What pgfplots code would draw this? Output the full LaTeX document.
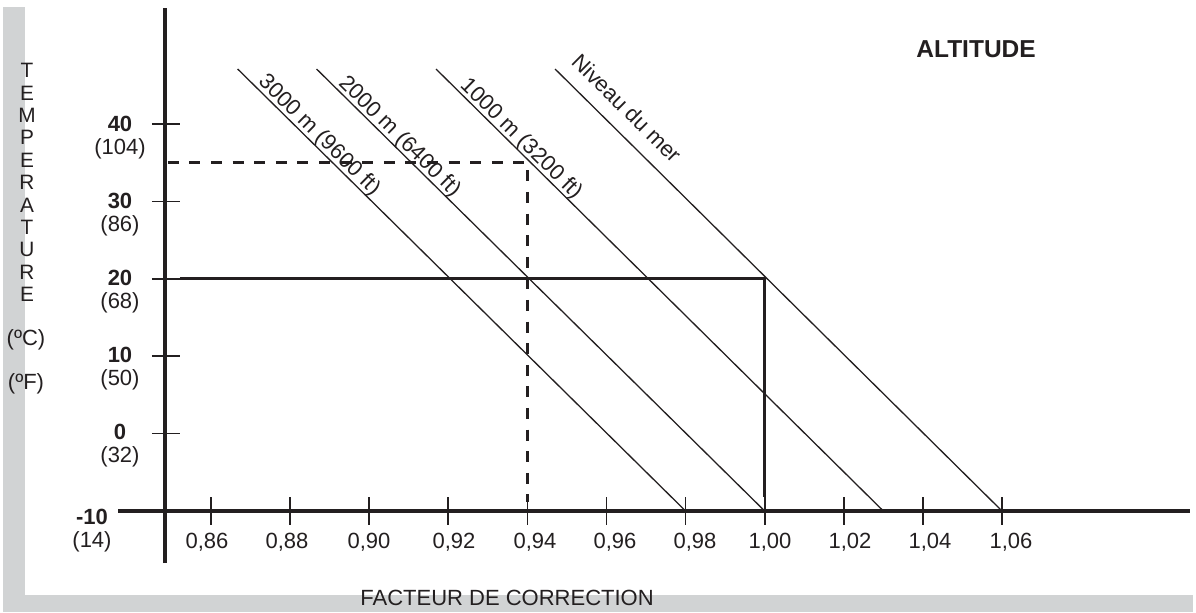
\documentclass[border=0pt]{standalone}
\usepackage{pgfplots}
\pgfplotsset{compat=1.18}
\usepackage{fontspec}
\setmainfont{Liberation Sans}
\definecolor{ink}{RGB}{35,31,32}
\definecolor{band}{RGB}{209,211,212}
\newcommand{\lab}{\fontsize{11bp}{13bp}\selectfont}
\begin{document}
\begin{tikzpicture}
\begin{scope}[x=0.5bp,y=-0.5bp]
\useasboundingbox (0,0) rectangle (1196,612);
\fill[band] (3,7) rectangle (25,612);
\fill[band] (3,595) rectangle (1193,612);
\end{scope}
\begin{axis}[at={(59bp,-281.5bp)},anchor=south west,scale only axis,
  width=536bp,height=277.5bp,
  xmin=0.83649,xmax=1.107535,ymin=-16.718,ymax=54.987,
  axis lines=none,clip=false]
% altitude lines
\addplot[ink,line width=0.65bp] coordinates {(0.86675,47.1) (0.98,-10)}
  node[pos=0.037,sloped,anchor=south west,text depth=0pt,inner xsep=0pt,inner ysep=1.7bp,font=\lab,text=ink] {3000 m (9600 ft)};
\addplot[ink,line width=0.65bp] coordinates {(0.8867,47.1) (1.00,-10)}
  node[pos=0.04,sloped,anchor=south west,text depth=0pt,inner xsep=0pt,inner ysep=1.7bp,font=\lab,text=ink] {2000 m (6400 ft)};
\addplot[ink,line width=0.65bp] coordinates {(0.9169,47.1) (1.03,-10)}
  node[pos=0.045,sloped,anchor=south west,text depth=0pt,inner xsep=0pt,inner ysep=1.7bp,font=\lab,text=ink] {1000 m (3200 ft)};
\addplot[ink,line width=0.65bp] coordinates {(0.947,47.1) (1.06,-10)}
  node[pos=0.01,sloped,anchor=south west,text depth=0pt,inner xsep=0pt,inner ysep=7bp,font=\lab,text=ink] {Niveau du mer};
% reading lines
\addplot[ink,line width=1.65bp,dash pattern=on 5.5bp off 5.3bp] coordinates {(0.8491,35) (0.94,35) (0.94,-8.84)};
\addplot[ink,line width=1.4bp] coordinates {(0.85216,20) (1.00,20) (1.00,-8.15)};
% axes
\draw[ink,line width=2.25bp] (0.84837,-16.718) -- (0.84837,54.987);
\draw[ink,line width=2.3bp] (0.83649,-10) -- (1.107535,-10);
\pgfplotsinvokeforeach{0,10,20,30,40}{\draw[ink,line width=0.85bp] (0.84508,#1) -- (0.85216,#1);}
\pgfplotsinvokeforeach{0.86,0.88,0.90,0.92,0.94,0.96,0.98,1.00,1.02,1.04,1.06}{\draw[ink,line width=0.85bp] (#1,-8.19) -- (#1,-11.81);}
\end{axis}
\begin{scope}[x=0.5bp,y=-0.5bp,every node/.style={text=ink,inner sep=0pt}]
% y tick labels
\foreach \py/\c/\f in {124/40/104,201/30/86,278/20/68,355/10/50,432/0/32}{
  \node[anchor=base,font=\lab\bfseries] at (120,\py+7.5) {\c};
  \node[anchor=base,font=\lab] at (120,\py+30.5) {(\f)};
}
\node[anchor=base,font=\lab\bfseries] at (92,524) {-10};
\node[anchor=base,font=\lab] at (92,547) {(14)};
% x tick labels
\foreach \px/\l in {207/{0,86},287/{0,88},369/{0,90},454/{0,92},535/{0,94},615/{0,96},695/{0,98},770/{1,00},850/{1,02},930/{1,04},1011/{1,06}}
  \node[anchor=base,font=\lab] at (\px,548) {\l};
% axis titles
\node[anchor=base west,font=\lab] at (360,605) {FACTEUR DE CORRECTION};
\foreach \l [count=\i from 0] in {T,E,M,P,E,R,A,T,U,R,E}
  \node[anchor=base,font=\fontsize{10.4bp}{12bp}\selectfont] at (27,77.7+22.4*\i) {\l};
\node[anchor=base,font=\lab] at (26,345) {(ºC)};
\node[anchor=base,font=\lab] at (26,389) {(ºF)};
\node[anchor=base west,font=\fontsize{12.25bp}{14bp}\selectfont\bfseries] at (916,58) {ALTITUDE};
\end{scope}
\end{tikzpicture}
\end{document}
